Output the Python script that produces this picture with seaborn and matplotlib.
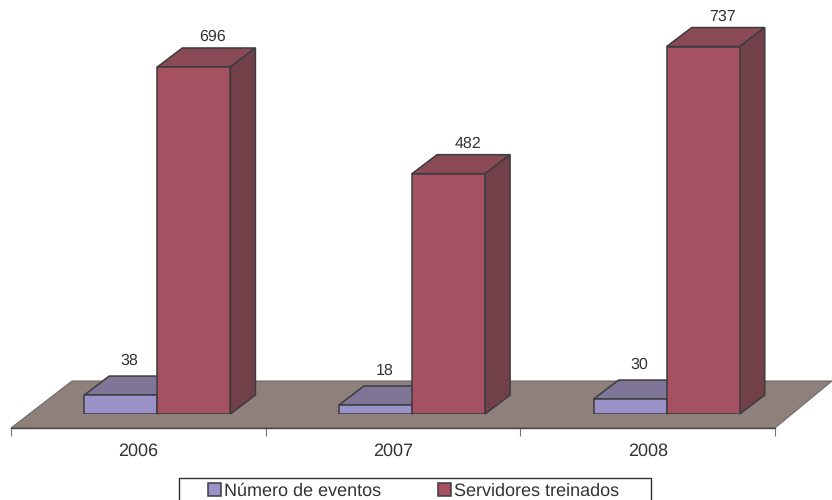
import pandas as pd
import seaborn as sns
import matplotlib.pyplot as plt
from matplotlib.patches import Polygon, Rectangle

anos = ['2006', '2007', '2008']
eventos = [38, 18, 30]
servidores = [696, 482, 737]
series = ['Número de eventos', 'Servidores treinados']

W, H = 832, 500
DX, DY = 25, 19  # bar depth in pixels
FRONT = {series[0]: '#9a92c8', series[1]: '#a65162'}
TOP = {series[0]: '#7f7596', series[1]: '#8a4a55'}
SIDE = {series[0]: '#6f6788', series[1]: '#714049'}
EDGE = '#3c3c40'
PX_PER_UNIT = 0.4986

sns.set_theme(style='white')
plt.rcParams['font.family'] = ['Liberation Sans', 'DejaVu Sans']
plt.rcParams['text.hinting'] = 'no_hinting'
plt.rcParams['text.hinting_factor'] = 1

df = pd.DataFrame({
    'ano': anos * 2,
    'serie': [series[0]] * 3 + [series[1]] * 3,
    'valor': eventos + servidores,
})

fig = plt.figure(figsize=(W / 100, H / 100), dpi=100)

# floor and category axis
floor = fig.add_axes([11 / W, (H - 428) / H, 764 / W, 428 / H], zorder=0)
floor.patch.set_visible(False)
floor.set_xlim(0, 3)
floor.set_ylim(0, 428)
xunit = 764 / 3
floor.add_patch(Polygon([(0, 0), (3, 0), (3 + 57 / xunit, 47), (61 / xunit, 47)],
                        closed=True, facecolor='#8e807a', edgecolor='#6e6a6a',
                        linewidth=0.8, clip_on=False))
for s in ['top', 'left', 'right']:
    floor.spines[s].set_visible(False)
floor.spines['bottom'].set_color('#444448')
floor.spines['bottom'].set_linewidth(1.0)
floor.set_yticks([])
floor.set_xticks([0, 1, 2, 3])
floor.set_xticklabels([])
floor.set_xticks([0.5, 1.5, 2.5], minor=True)
floor.set_xticklabels(anos, minor=True, fontsize=13, color='#333333')
floor.tick_params(axis='x', which='major', bottom=True, length=5.5, width=0.8, color='#777777')
floor.tick_params(axis='x', which='minor', bottom=False, length=0, pad=10.5)

# bars
ax = fig.add_axes([30 / W, (H - 414) / H, 764 / W, 414 / H], zorder=1)
ax.patch.set_visible(False)
sns.barplot(data=df, x='ano', y='valor', hue='serie', hue_order=series, palette=FRONT,
            width=0.574, gap=0, saturation=1, edgecolor=EDGE, linewidth=1.1, ax=ax, zorder=3)
ax.set_xlim(-0.5, 2.5)
ax.set_ylim(0, 414 / PX_PER_UNIT)
xu = 764 / 3
yu = PX_PER_UNIT
for cont, nome in zip(ax.containers, series):
    for bar in cont:
        x0, w, h = bar.get_x(), bar.get_width(), bar.get_height()
        dx, dy = DX / xu, DY / yu
        ax.add_patch(Polygon([(x0, h), (x0 + w, h), (x0 + w + dx, h + dy), (x0 + dx, h + dy)],
                             closed=True, facecolor=TOP[nome], edgecolor=EDGE, linewidth=1.1,
                             zorder=2, clip_on=False))
        ax.add_patch(Polygon([(x0 + w, 0), (x0 + w + dx, dy), (x0 + w + dx, h + dy), (x0 + w, h)],
                             closed=True, facecolor=SIDE[nome], edgecolor=EDGE, linewidth=1.1,
                             zorder=2, clip_on=False))
        off = (9, 15) if nome == series[0] else (19, 11)
        ax.annotate(f'{h:.0f}', (x0 + w / 2, h + dy), xytext=off, textcoords='offset pixels',
                    ha='center', va='center', fontsize=11.2, color='#333333', annotation_clip=False)
ax.axis('off')

# legend box runs off the bottom of the picture, as in the original
fig.add_artist(Rectangle((179 / W, -6 / H), 472 / W, 28 / H, transform=fig.transFigure,
                         facecolor='white', edgecolor='#333333', linewidth=1.0))
leg = ax.legend(ncol=2, loc='center left', bbox_to_anchor=(208 / W, 9 / H), bbox_transform=fig.transFigure,
                frameon=False, fontsize=13.25, labelcolor='#333333',
                handlelength=0.7, handleheight=0.7, handletextpad=0.16, columnspacing=3.1,
                borderpad=0, borderaxespad=0, labelspacing=0)

fig.savefig('out.png', dpi=100)
